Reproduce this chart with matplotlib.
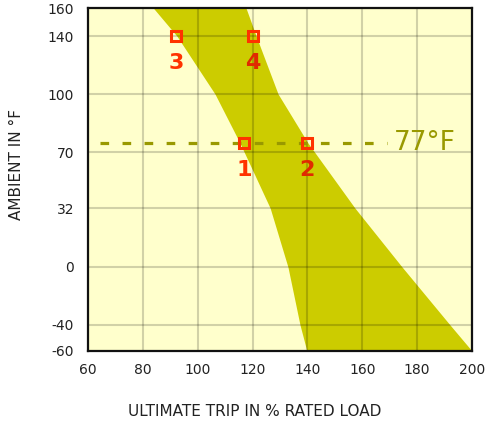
import numpy as np
import matplotlib
matplotlib.use('Agg')
import matplotlib.pyplot as plt

# tick values on each axis
x_ticks = [60, 80, 100, 120, 140, 160, 180, 200]
y_ticks = [-60, -40, 0, 32, 70, 100, 140, 160]

# trip band (ambient temperature vs. % rated load)
band_temp = [160, 140, 100, 77, 32, 0, -40, -60]
band_low = [83.8, 92.4, 106.3, 115.4, 126.4, 132.9, 137.3, 139.8]
band_high = [117.6, 121.3, 129.3, 140.2, 157.3, 174.5, 192.0, 200.0]

# numbered test points
point_labels = ['1', '2', '3', '4']
point_load = [117, 140, 92, 120]
point_temp = [77, 77, 140, 140]

ref_temp = 77
ref_label = '77°F'

# the chart's y axis is not linear: piecewise mapping of value -> height
scale_vals = np.array([-60, -40, 0, 32, 70, 77, 100, 140, 160], float)
scale_pos = np.array([0, 26, 84, 143, 199, 208, 257, 315, 343], float)


def _pw(v, xp, fp):
    v = np.asarray(v, float)
    out = np.interp(v, xp, fp)
    lo = (fp[1] - fp[0]) / (xp[1] - xp[0])
    hi = (fp[-1] - fp[-2]) / (xp[-1] - xp[-2])
    out = np.where(v < xp[0], fp[0] + (v - xp[0]) * lo, out)
    out = np.where(v > xp[-1], fp[-1] + (v - xp[-1]) * hi, out)
    return out


def fwd(v):
    return _pw(v, scale_vals, scale_pos)


def inv(p):
    return _pw(p, scale_pos, scale_vals)


fig = plt.figure(figsize=(4.87, 4.21), dpi=100)
ax = fig.add_axes([88 / 487, 70 / 421, 384 / 487, 343 / 421])
ax.set_yscale('function', functions=(fwd, inv))
ax.set_facecolor('#ffffcc')

ax.fill_betweenx(band_temp, band_low, band_high, color='#cccc00', lw=0, zorder=1)

ax.set_xlim(60, 200)
ax.set_ylim(-60, 160)
ax.set_xticks(x_ticks)
ax.set_yticks(y_ticks)
ax.set_yticklabels([str(t) for t in y_ticks])
ax.minorticks_off()
ax.tick_params(length=0, labelsize=10, labelcolor='#222222')
ax.tick_params(axis='y', pad=10)
ax.tick_params(axis='x', pad=9)
# grid darkens whatever is under it (like a multiply)
ax.grid(True, color='black', alpha=0.18, lw=1.5, zorder=2)
ax.set_axisbelow(False)
for s in ax.spines.values():
    s.set_linewidth(1.6)
    s.set_color('#111111')
    s.set_zorder(5)

# reference temperature line
ax.plot([64.4, 169], [ref_temp, ref_temp], color='#999900', lw=2.3,
        dashes=(2.7, 4.2), zorder=3)
ax.text(171.5, ref_temp, ref_label, color='#999900', fontsize=19,
        ha='left', va='center', zorder=4)

ax.plot(point_load, point_temp, ls='none', marker='s', ms=7.2, mew=2.2,
        mec='#ff3300', mfc='none', zorder=4)
for lab, x, y in zip(point_labels, point_load, point_temp):
    c = '#ff3300' if lab in ('1', '3') else '#e02a00'
    ax.annotate(lab, (x, y), xytext=(0, -19.5), textcoords='offset points',
                ha='center', va='center', fontsize=16, fontweight='bold',
                color=c, zorder=4)

fig.text(255 / 487, 1 - 412 / 421, 'ULTIMATE TRIP IN % RATED LOAD',
         ha='center', va='center', fontsize=11, color='#222222')
fig.text(17 / 487, 1 - 165 / 421, 'AMBIENT IN °F', rotation=90,
         ha='center', va='center', fontsize=11, color='#222222')

fig.savefig('out.png', dpi=100)
